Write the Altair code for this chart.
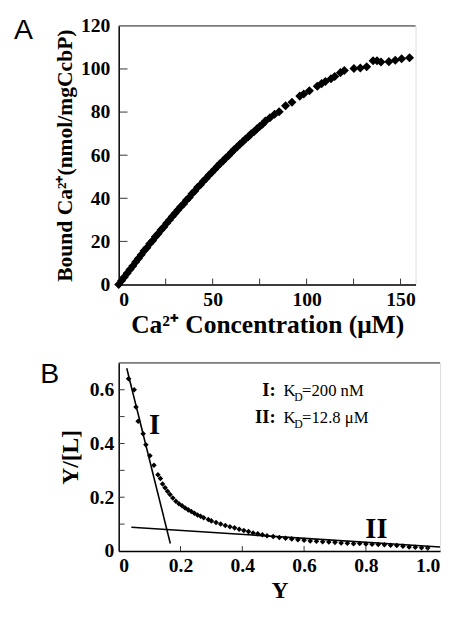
import altair as alt
import pandas as pd

SERIF = "Liberation Serif"
SANS = "Liberation Sans"

# ---------------- Panel A: binding curve ----------------
conc_A = [0, 1.5, 3, 4.5, 6, 7.5, 9, 10.5, 12, 13.5, 15, 16.5, 18, 19.5, 21, 22.5,
          24, 25.5, 27, 28.5, 30, 31.5, 33, 34.5, 36, 37.5, 39, 40.5, 42, 43.5,
          45, 46.5, 48, 49.5, 51, 52.5, 54, 55.5, 57, 58.5, 60, 61.5, 63, 64.5,
          66, 67.5, 69, 70.5, 72, 73.5, 75, 76.5, 78, 80.5, 83, 85.4, 88.8, 92.2,
          96.4, 98.5, 101.5, 105.7, 108, 110, 113, 115, 118, 120.1, 125.2, 128.6,
          132, 135.4, 137.5, 139.6, 143.8, 147.2, 150.6, 154.8]
bound_A = [0, 1.7, 3.5, 5.2, 7.0, 8.6, 10.4, 12.1, 13.8, 15.6, 17.1, 18.9, 20.3, 22.1,
           23.6, 25.3, 26.7, 28.4, 29.9, 31.5, 33.0, 34.6, 36.1, 37.4, 39.1, 40.4,
           42.1, 43.4, 45.1, 46.3, 47.9, 49.2, 50.7, 52.0, 53.4, 54.8, 56.1, 57.3,
           58.7, 59.9, 61.3, 62.6, 63.8, 65.1, 66.2, 67.5, 68.6, 69.9, 70.9, 72.2,
           73.3, 74.3, 75.8, 77.4, 79.0, 80.2, 82.9, 84.6, 87.4, 88.4, 89.9, 92.0,
           93.2, 94.2, 95.5, 96.5, 98.3, 99.3, 100.2, 100.4, 101.0, 103.8, 103.8,
           103.2, 103.4, 104.0, 104.7, 105.2]

xticks_A = [0, 50, 100, 150]
xinner_A = [25, 50, 75, 100, 125, 150]
yticks_A = [0, 20, 40, 60, 80, 100, 120]
yinner_A = [20, 40, 60, 80, 100]

# ---------------- Panel B: Scatchard plot ----------------
y_B = [0.032, 0.05, 0.056, 0.063, 0.079, 0.088, 0.101, 0.114, 0.127, 0.135, 0.142,
       0.15, 0.158, 0.166, 0.175, 0.185, 0.195, 0.205, 0.215, 0.225, 0.235, 0.245,
       0.255, 0.265, 0.275, 0.29, 0.3, 0.315, 0.33, 0.345, 0.36, 0.375, 0.39, 0.405,
       0.42, 0.435, 0.45, 0.465, 0.48, 0.5, 0.52, 0.54, 0.56, 0.58, 0.6, 0.62, 0.64,
       0.66, 0.68, 0.7, 0.72, 0.74, 0.76, 0.78, 0.8, 0.82, 0.84, 0.86, 0.88, 0.9,
       0.92, 0.94, 0.96, 0.98, 1.0]
yl_B = [0.641, 0.6, 0.536, 0.483, 0.436, 0.395, 0.354, 0.319, 0.284, 0.27, 0.249,
        0.235, 0.222, 0.21, 0.197, 0.185, 0.176, 0.168, 0.16, 0.153, 0.147, 0.14,
        0.134, 0.129, 0.124, 0.117, 0.112, 0.106, 0.1, 0.095, 0.09, 0.086, 0.081,
        0.076, 0.072, 0.067, 0.064, 0.06, 0.057, 0.054, 0.05, 0.047, 0.045, 0.042,
        0.04, 0.037, 0.036, 0.034, 0.033, 0.032, 0.03, 0.029, 0.027, 0.028, 0.026,
        0.025, 0.024, 0.023, 0.021, 0.02, 0.018, 0.015, 0.014, 0.012, 0.011]

fit_name = ["I", "I", "II", "II"]
fit_x = [0.026, 0.167, 0.041, 1.04]
fit_y = [0.68, 0.028, 0.088, 0.015]

xticks_B = [0, 0.2, 0.4, 0.6, 0.8, 1.0]
xinner_B = [0.2, 0.4, 0.6, 0.8, 1.0]
yticks_B = [0, 0.2, 0.4, 0.6]
yinner_B = [0.1, 0.2, 0.3, 0.4, 0.5, 0.6]

line_labels = ["I", "II"]
line_label_x = [0.116, 0.834]
line_label_y = [0.435, 0.049]

legend_keys = ["I:", "II:"]
legend_vals = ["=200 nM", "=12.8 μM"]
legend_x = [0.508, 0.508]
legend_y = [0.575, 0.477]

panel_letters = ["A", "B"]

# ---------------- common styling ----------------
def axis_style(**kw):
    base = dict(grid=False, ticks=False, domainColor="black", domainWidth=1.5,
                labelFont=SERIF, labelFontWeight="bold", labelFontSize=20,
                labelColor="black", titleFont=SERIF, titleFontWeight="bold",
                titleColor="black", labelOverlap=False)
    base.update(kw)
    return alt.Axis(**base)

wA, hA = 303, 264
wB, hB = 328, 192

# ---------------- Panel A chart ----------------
dfA = pd.DataFrame({"conc": conc_A, "bound": bound_A})
xA = alt.Scale(domain=[0, 158], nice=False)
yA = alt.Scale(domain=[0, 120], nice=False)

ptsA = alt.Chart(dfA).mark_point(shape="diamond", filled=True, color="black",
                                 size=85, opacity=1).encode(
    x=alt.X("conc:Q", scale=xA,
            axis=axis_style(values=xticks_A, title="Ca²⁺ Concentration (μM)",
                            titleFontSize=26, labelPadding=5, titlePadding=3)),
    y=alt.Y("bound:Q", scale=yA,
            axis=axis_style(values=yticks_A, title="Bound Ca²⁺(nmol/mgCcbP)",
                            titleFontSize=22, labelPadding=9, titlePadding=4)),
)

tickAx = alt.Chart(pd.DataFrame({"conc": xinner_A})).mark_rule(color="#333", strokeWidth=1).encode(
    x=alt.X("conc:Q", scale=xA), y=alt.value(hA), y2=alt.value(hA - 6))
tickAy = alt.Chart(pd.DataFrame({"bound": yinner_A})).mark_rule(color="#333", strokeWidth=1).encode(
    y=alt.Y("bound:Q", scale=yA), x=alt.value(0), x2=alt.value(9))
topA = alt.Chart(pd.DataFrame({"r": [0]})).mark_rule(color="#555", strokeWidth=1.5).encode(
    y=alt.value(0))
letterA = alt.Chart(pd.DataFrame({"L": panel_letters[:1]})).mark_text(
    font=SANS, fontSize=29, align="left", baseline="alphabetic", color="black").encode(
    text="L:N", x=alt.value(-107), y=alt.value(13))

panelA = alt.layer(ptsA, tickAx, tickAy, topA, letterA).properties(width=wA, height=hA)

# ---------------- Panel B chart ----------------
dfB = pd.DataFrame({"Y": y_B, "YL": yl_B})
xB = alt.Scale(domain=[0, 1.04], nice=False)
yB = alt.Scale(domain=[0, 0.7], nice=False)
fmt = "datum.value == 0 ? '0' : format(datum.value, '.1f')"

ptsB = alt.Chart(dfB).mark_point(shape="diamond", filled=True, color="black",
                                 size=32, opacity=1).encode(
    x=alt.X("Y:Q", scale=xB,
            axis=axis_style(values=xticks_B, labelExpr=fmt, title="Y",
                            titleFontSize=24, labelPadding=5, titlePadding=3)),
    y=alt.Y("YL:Q", scale=yB,
            axis=axis_style(values=yticks_B, labelExpr=fmt, title="Y/[L]",
                            titleFontSize=24, labelPadding=5, titlePadding=7)),
)

dfFit = pd.DataFrame({"name": fit_name, "Y": fit_x, "YL": fit_y})
fits = alt.Chart(dfFit).mark_line(color="black", strokeWidth=1.6, clip=True).encode(
    x=alt.X("Y:Q", scale=xB), y=alt.Y("YL:Q", scale=yB), detail="name:N")

tickBx = alt.Chart(pd.DataFrame({"Y": xinner_B})).mark_rule(color="#333", strokeWidth=1).encode(
    x=alt.X("Y:Q", scale=xB), y=alt.value(hB), y2=alt.value(hB - 5))
tickBy = alt.Chart(pd.DataFrame({"YL": yinner_B})).mark_rule(color="#333", strokeWidth=1).encode(
    y=alt.Y("YL:Q", scale=yB), x=alt.value(0), x2=alt.value(6))
topB = alt.Chart(pd.DataFrame({"r": [0]})).mark_rule(color="#555", strokeWidth=1.5).encode(
    y=alt.value(0))

dfLab = pd.DataFrame({"lab": line_labels, "Y": line_label_x, "YL": line_label_y})
labs = alt.Chart(dfLab).mark_text(font=SERIF, fontWeight="bold", fontSize=29,
                                  align="center", baseline="alphabetic", color="black").encode(
    x=alt.X("Y:Q", scale=xB), y=alt.Y("YL:Q", scale=yB), text="lab:N")

dfLeg = pd.DataFrame({"key": legend_keys, "val": legend_vals, "Y": legend_x, "YL": legend_y,
                      "K": ["K", "K"], "D": ["D", "D"]})
legBase = alt.Chart(dfLeg).encode(x=alt.X("Y:Q", scale=xB), y=alt.Y("YL:Q", scale=yB))
legKey = legBase.mark_text(font=SERIF, fontWeight="bold", fontSize=19, align="right",
                           baseline="alphabetic", color="black").encode(text="key:N")
legK = legBase.mark_text(font=SERIF, fontSize=17, align="left", dx=8,
                         baseline="alphabetic", color="black").encode(text="K:N")
legD = legBase.mark_text(font=SERIF, fontSize=12, align="left", dx=19, dy=5,
                         baseline="alphabetic", color="black").encode(text="D:N")
legV = legBase.mark_text(font=SERIF, fontSize=17, align="left", dx=27,
                         baseline="alphabetic", color="black").encode(text="val:N")

letterB = alt.Chart(pd.DataFrame({"L": panel_letters[1:]})).mark_text(
    font=SANS, fontSize=29, align="left", baseline="alphabetic", color="black").encode(
    text="L:N", x=alt.value(-80), y=alt.value(21))

panelB = alt.layer(ptsB, tickBx, tickBy, topB, fits, labs, legKey, legK, legD, legV,
                   letterB).properties(width=wB, height=hB)

chart = alt.concat(panelA, panelB, columns=1, align="none", spacing=22).properties(
    padding={"left": 5, "top": 1, "right": 0, "bottom": 0}
).configure_view(stroke="transparent").configure(background="white")

chart.save("out.html", embed_options={"renderer": "svg", "actions": False})
